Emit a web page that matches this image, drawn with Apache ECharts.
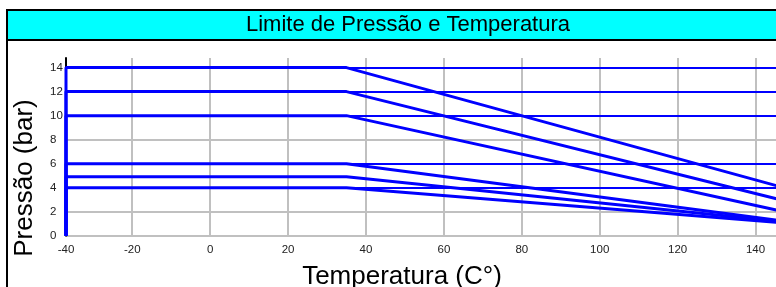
<!DOCTYPE html>
<html>
<head>
<meta charset="utf-8">
<script src="https://cdn.jsdelivr.net/npm/echarts@6/dist/echarts.min.js"></script>
<style>
    html, body { margin: 0; padding: 0; background: #fff; overflow: hidden; }
    #main { width: 816px; height: 287px; }
</style>
</head>
<body>
<div id="main"></div>
<script>
    // eixo X começa um pouco depois de -40 no original (rotulado -40)
    let tempMin = -37;
    let tempMax = 150;
    let tempKnee = 35;
    let tempEnd = 150;

    // pressão no trecho constante e no final da curva
    let pressStart = [14, 12, 10, 6, 4.9, 4];
    let pressEnd = [3.75, 2.7, 1.8, 1.1, 1.05, 1.0];

    // linhas horizontais de referência
    let refLevels = [14, 12, 10, 6, 4];

    let fontFamily = "'Liberation Sans', Arial, sans-serif";
    let blue = '#0000ff';
    let gridGrey = '#c0c0c0';

    let chart = echarts.init(document.getElementById('main'), null, {renderer: 'canvas'});

    let series = pressStart.map(function (p, i) {
        let s = {
            type: 'line',
            showSymbol: false,
            silent: true,
            z: 3,
            lineStyle: {color: blue, width: 3},
            data: [
                [tempMin, 0],
                [tempMin, p],
                [tempKnee, p],
                [tempEnd, pressEnd[i]]
            ]
        };
        if (i === 0) {
            s.markLine = {
                silent: true,
                symbol: ['none', 'none'],
                label: {show: false},
                lineStyle: {color: blue, width: 2, type: 'solid'},
                data: refLevels.map(function (v) {
                    return {yAxis: v};
                })
            };
        }
        return s;
    });

    let option = {
        animation: false,
        backgroundColor: '#fff',
        textStyle: {fontFamily: fontFamily},
        grid: {left: 66, top: 58, right: 21.5, bottom: 51.3},
        graphic: [
            {
                type: 'rect',
                z: 0,
                shape: {x: 7, y: 10, width: 806, height: 300},
                style: {fill: '#fff', stroke: '#000', lineWidth: 2}
            },
            {
                type: 'rect',
                z: 1,
                shape: {x: 7, y: 10, width: 806, height: 30},
                style: {fill: '#00ffff', stroke: '#000', lineWidth: 2}
            },
            {
                type: 'text',
                z: 2,
                x: 408,
                y: 24.5,
                style: {
                    text: 'Limite de Pressão e Temperatura',
                    font: '22px ' + fontFamily,
                    fill: '#000',
                    align: 'center',
                    verticalAlign: 'middle'
                }
            },
            {
                type: 'text',
                z: 2,
                x: 402,
                y: 277,
                style: {
                    text: 'Temperatura (C°)',
                    font: '26px ' + fontFamily,
                    fill: '#000',
                    align: 'center',
                    verticalAlign: 'middle'
                }
            },
            {
                type: 'text',
                z: 2,
                x: 25,
                y: 178,
                rotation: Math.PI / 2,
                style: {
                    text: 'Pressão (bar)',
                    font: '26px ' + fontFamily,
                    fill: '#000',
                    align: 'center',
                    verticalAlign: 'middle'
                }
            }
        ],
        xAxis: {
            type: 'value',
            min: tempMin,
            max: tempMax,
            splitNumber: 9,
            axisLine: {show: false},
            axisTick: {show: false},
            splitLine: {show: true, showMaxLine: false, lineStyle: {color: gridGrey, width: 2}},
            axisLabel: {
                margin: 8,
                fontSize: 11.5,
                color: '#222',
                showMaxLabel: false,
                formatter: function (v) {
                    if (v === tempMin) return '-40';
                    return String(v);
                }
            }
        },
        yAxis: {
            type: 'value',
            min: 0,
            max: 14.8,
            interval: 2,
            axisLine: {show: true, onZero: false, lineStyle: {color: '#000', width: 2}},
            axisTick: {show: false},
            splitLine: {show: true, showMaxLine: false, lineStyle: {color: gridGrey, width: 2}},
            axisLabel: {
                margin: 16,
                align: 'left',
                fontSize: 11.5,
                color: '#222',
                showMaxLabel: false
            }
        },
        series: series
    };

    chart.setOption(option);
</script>
</body>
</html>
